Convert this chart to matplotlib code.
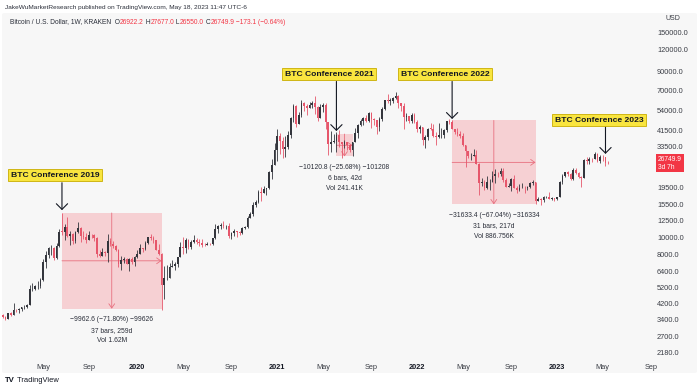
import numpy as np
import pandas as pd

import matplotlib

matplotlib.use("Agg")
import matplotlib.pyplot as plt
import matplotlib.dates as mdates
from matplotlib.patches import Rectangle, FancyBboxPatch
from matplotlib.ticker import NullLocator, NullFormatter

plt.rcParams["font.family"] = ["Liberation Sans", "DejaVu Sans"]

# weekly BTC/USD candles (Kraken, 1W), week starting Monday
first_week = "2019-01-21"
first_open = 3580.0

close_2019 = [3500, 3420, 3680, 3620, 3860, 3830, 3900, 3980, 3990, 4110,
              5060, 5080, 5280, 5280, 5750, 7250, 8000, 8720, 8730, 7660,
              8980, 10850, 10800, 11450, 10200, 10550, 9550, 10800, 11300, 10200,
              10150, 9750, 10400, 10350, 9950, 8050, 7850, 8300, 8220, 9550,
              9200, 9020, 8500, 7050, 7400, 7500, 7100, 7510, 7250, 7750]
high_2019 = [3640, 3550, 3690, 3720, 4200, 3900, 3930, 4000, 4080, 4150,
             5350, 5470, 5350, 5650, 5900, 7500, 8350, 8900, 9100, 8800,
             9330, 11250, 13880, 12000, 13200, 11000, 10650, 11000, 12300, 11450,
             10900, 10600, 10950, 10450, 10450, 10050, 8500, 8700, 8400, 10500,
             9950, 9550, 9100, 8600, 7850, 7750, 7600, 7650, 7700, 7800]
low_2019 = [3460, 3370, 3390, 3560, 3600, 3730, 3700, 3780, 3900, 3950,
            4080, 4950, 5000, 5070, 5150, 5650, 6700, 7600, 8000, 7450,
            7550, 8900, 10350, 9650, 10100, 9100, 9200, 9380, 10600, 9500,
            9800, 9350, 9700, 9900, 9600, 7700, 7750, 7800, 7800, 7300,
            8950, 8700, 8400, 6800, 6550, 7150, 7050, 6450, 7050, 6850]

close_2020 = [8100, 8700, 8600, 9380, 10150, 9900, 9680, 8550, 8050, 5350,
              5850, 5900, 6800, 6900, 7100, 7700, 8900, 8700, 9700, 8900,
              9450, 9750, 9400, 9300, 9100, 9080, 9250, 9170, 9900, 11200,
              11700, 11900, 11650, 11650, 10250, 10650, 10930, 10720, 10680, 11390,
              11500, 13050, 13750, 15450, 15950, 18400, 18150, 19150, 19250, 23850,
              26300, 32000]
high_2020 = [8450, 9200, 8750, 9600, 10150, 10500, 10250, 9700, 9200, 8150,
             6900, 7000, 7200, 7450, 7250, 7750, 9450, 10050, 9950, 9850,
             9700, 10400, 10000, 9800, 9800, 9300, 9450, 9350, 10000, 12000,
             11900, 12100, 12500, 11800, 12100, 10800, 11200, 11000, 10950, 11500,
             11750, 13350, 14100, 15950, 16500, 18800, 19500, 19900, 19400, 24300,
             28400, 34800]
low_2020 = [7650, 8050, 8250, 8480, 9150, 9700, 9300, 8450, 8000, 3850,
            4450, 5700, 5900, 6750, 6500, 6800, 7700, 8100, 8200, 8650,
            8650, 9350, 9150, 9000, 8850, 8950, 9050, 9050, 9100, 9850,
            10650, 11150, 11350, 11150, 9900, 9850, 10200, 10150, 10400, 10550,
            11200, 11400, 12950, 13250, 15100, 15800, 16200, 18150, 17600, 19000,
            21850, 26100]

close_2021 = [38200, 35800, 32300, 33100, 38900, 48600, 57400, 45200, 50900, 59100,
              57300, 55800, 58000, 59800, 56200, 49000, 56600, 58200, 46400, 34600,
              35600, 35800, 39000, 35500, 34600, 35300, 34250, 31800, 35400, 39900,
              44500, 47000, 49000, 47100, 51800, 48300, 47250, 43200, 48200, 54700,
              61500, 61300, 61300, 63300, 65500, 59700, 57300, 49400, 50100, 46700,
              50800, 46200]
high_2021 = [42000, 40100, 37850, 38500, 41000, 49700, 58300, 57500, 52600, 61800,
             60600, 58400, 60000, 61200, 64900, 57000, 58500, 59500, 59600, 45800,
             40900, 39400, 40700, 41300, 35700, 36600, 35100, 34600, 35500, 42500,
             44800, 48100, 49400, 50500, 52900, 52900, 48800, 47300, 49200, 56500,
             62000, 67000, 63700, 64200, 69000, 66300, 59500, 59100, 51900, 50200,
             51900, 52100]
low_2021 = [27700, 30300, 28800, 29200, 32300, 37400, 46500, 43000, 44950, 49300,
            53250, 50400, 55500, 55500, 51300, 47000, 48800, 53000, 42100, 30000,
            31100, 34800, 31000, 33350, 28800, 32700, 32100, 31000, 29300, 35300,
            37500, 43800, 44300, 46300, 46500, 42800, 44700, 39600, 40800, 46900,
            53900, 59600, 57800, 59500, 62300, 55600, 53300, 42000, 46800, 45600,
            45600, 45700]

close_2022 = [41900, 43100, 36300, 37900, 42400, 42200, 38400, 37700, 38800, 38800,
              41300, 46800, 46400, 42200, 40400, 39500, 38500, 34300, 31300, 29400,
              29500, 29900, 26600, 20600, 21000, 19300, 20800, 20800, 22600, 23300,
              23200, 24300, 21500, 19600, 19800, 21800, 19400, 18800, 19300, 19400,
              19200, 19500, 20600, 20900, 16300, 16700, 16450, 17100, 17100, 16750,
              16850, 16600]
high_2022 = [47600, 44500, 43500, 38900, 42700, 45800, 44800, 40300, 45400, 42600,
             42300, 46900, 48200, 47200, 42400, 42900, 40800, 40000, 34300, 31400,
             30600, 32300, 31700, 26900, 22000, 21500, 22500, 21600, 24300, 24700,
             23700, 25200, 25100, 22000, 20600, 21900, 22800, 19900, 20400, 20500,
             19700, 19700, 21000, 21500, 21000, 17200, 16800, 17400, 17400, 18400,
             17100, 16950]
low_2022 = [40600, 39700, 34000, 32900, 36300, 41700, 38000, 34300, 37200, 37200,
            37600, 40500, 45200, 42100, 39200, 38600, 37600, 33700, 25400, 28700,
            28000, 29300, 26600, 17600, 19700, 18800, 19000, 18900, 20800, 20700,
            22400, 22700, 20800, 19500, 19500, 18500, 19300, 18100, 18500, 19300,
            18100, 18900, 19250, 20050, 15550, 16300, 15500, 16000, 16800, 16600,
            16500, 16300]

close_2023 = [17100, 20900, 22700, 23700, 23300, 21800, 24600, 23600, 22400, 22100,
              27900, 27500, 28400, 28300, 30300, 27600, 29200, 28900, 26922.2, 26749.9]
high_2023 = [17200, 21300, 23300, 23800, 24200, 23500, 25200, 25200, 24000, 22600,
             28500, 28900, 29200, 28800, 31000, 30500, 30000, 29800, 29100, 27677.0]
low_2023 = [16500, 17100, 20400, 22300, 22500, 21500, 21400, 23100, 21900, 19600,
            21900, 26600, 26500, 27200, 28200, 27100, 26900, 27700, 25800, 26550.0]

# price axis labels
price_ticks = [150000, 120000, 90000, 70000, 54000, 41500, 33500, 19500, 15500,
               12500, 10000, 8000, 6400, 5200, 4200, 3400, 2700, 2180]
last_price = 26749.9
last_price_timer = "3d 7h"

# time axis labels (first weekly bar of each month)
time_tick_dates = ["2019-05-06", "2019-09-02", "2020-01-06", "2020-05-04", "2020-09-07",
                   "2021-01-04", "2021-05-03", "2021-09-06", "2022-01-03", "2022-05-02",
                   "2022-09-05", "2023-01-02", "2023-05-01", "2023-09-04"]
time_tick_labels = ["May", "Sep", "2020", "May", "Sep", "2021", "May", "Sep",
                    "2022", "May", "Sep", "2023", "May", "Sep"]

# conference callouts
conf_labels = ["BTC Conference 2019", "BTC Conference 2021", "BTC Conference 2022", "BTC Conference 2023"]
conf_label_dates = ["2019-06-06", "2021-05-19", "2022-03-16", "2023-04-21"]
conf_label_prices = [22900, 87200, 87200, 47400]
conf_arrow_dates = ["2019-06-24", "2021-06-07", "2022-04-04", "2023-05-08"]
conf_arrow_from = [20700, 79000, 79000, 43500]
conf_arrow_to = [14400, 41000, 48100, 30300]

# date/price range measurements
range_start = ["2019-06-24", "2021-06-07", "2022-04-04"]
range_days = [259, 42, 217]
range_bars = [37, 6, 31]
range_top = [13875.0, 39411.2, 47186.0]
range_drop = [9962.6, 10120.8, 31633.4]
range_pct = [71.80, 25.68, 67.04]
range_ticks = [99626, 101208, 316334]
range_vol = ["1.62M", "241.41K", "886.756K"]

UP = "#34363d"
DOWN = "#e6566b"
TEXT = "#2a2e39"
RED = "#f23645"

W, H = 699, 389
fig = plt.figure(figsize=(W / 100, H / 100), dpi=100)
fig.patch.set_facecolor("white")
fig.add_artist(FancyBboxPatch((2 / W, 1 - 373 / H), 695 / W, 360 / H,
                              boxstyle="round,pad=0,rounding_size=0.004",
                              transform=fig.transFigure, fc="#f7f7f7", ec="none", zorder=0))

ax = fig.add_axes([2 / W, 1 - 358 / H, 650 / W, 344 / H])
ax.set_facecolor("none")
for s in ax.spines.values():
    s.set_visible(False)
ax.set_yscale("log")

close = np.array(close_2019 + close_2020 + close_2021 + close_2022 + close_2023, dtype=float)
high = np.array(high_2019 + high_2020 + high_2021 + high_2022 + high_2023, dtype=float)
low = np.array(low_2019 + low_2020 + low_2021 + low_2022 + low_2023, dtype=float)
opn = np.r_[first_open, close[:-1]]
weeks = pd.date_range(first_week, periods=len(close), freq="7D")
x = mdates.date2num(weeks)

up = close >= opn
colors = np.where(up, UP, DOWN)
ax.vlines(x, low, high, colors=colors, lw=0.6, zorder=3)
body_lo = np.minimum(opn, close)
body_h = np.maximum(np.abs(close - opn), body_lo * 0.006)
ax.bar(x, body_h, bottom=body_lo, width=4.5, color=colors, linewidth=0, zorder=4)

ax.set_xlim(mdates.datestr2num("2019-01-19"), mdates.datestr2num("2023-09-06"))
ax.set_ylim(2037, 192850)

# range measurements
for start, days, bars, top, drop, pct, ticks, vol in zip(range_start, range_days, range_bars, range_top,
                                                        range_drop, range_pct, range_ticks, range_vol):
    x0 = mdates.datestr2num(start)
    x1 = x0 + days
    bottom = top - drop
    ax.add_patch(Rectangle((x0, bottom), days, top - bottom, fc=RED, alpha=0.2, ec="none", zorder=2))
    xm = (x0 + x1) / 2
    ym = np.sqrt(top * bottom)
    arrow = dict(arrowstyle="->,head_length=0.5,head_width=0.35", color="#e8707f", lw=0.6,
                 shrinkA=0, shrinkB=0, mutation_scale=6)
    ax.annotate("", xy=(x1, ym), xytext=(x0, ym), arrowprops=arrow, zorder=2.5)
    ax.annotate("", xy=(xm, bottom), xytext=(xm, top), arrowprops=arrow, zorder=2.5)
    lines = [f"\u2212{drop} (\u2212{pct:.2f}%) \u2212{ticks}", f"{bars} bars, {days}d", f"Vol {vol}"]
    for k, line in enumerate(lines):
        ax.annotate(line, xy=(xm, bottom), xytext=(0, -11 - 10.5 * k), textcoords="offset pixels",
                    ha="center", va="center", fontsize=4.9, color=TEXT, zorder=6)

# conference callouts
for label, ld, lp, ad, a0, a1 in zip(conf_labels, conf_label_dates, conf_label_prices,
                                     conf_arrow_dates, conf_arrow_from, conf_arrow_to):
    xa = mdates.datestr2num(ad)
    ax.annotate("", xy=(xa, a1), xytext=(xa, a0),
                arrowprops=dict(arrowstyle="->,head_length=0.45,head_width=0.45", color="#131722",
                                lw=0.8, shrinkA=0, shrinkB=0, mutation_scale=9), zorder=7)
    ax.text(mdates.datestr2num(ld), lp, label, ha="center", va="center", fontsize=6.1,
            fontweight="bold", color="#131722", zorder=8,
            bbox=dict(boxstyle="square,pad=0.3", fc="#f9e53f", ec="#c9ad00", lw=0.6))

# axes ticks
ax.yaxis.tick_right()
ax.yaxis.set_minor_locator(NullLocator())
ax.yaxis.set_minor_formatter(NullFormatter())
ax.set_yticks(price_ticks, [f"{v:.1f}" for v in price_ticks])
ax.tick_params(axis="y", length=0, pad=3.6, labelsize=5.3, labelcolor="#3a3d45")
ax.set_xticks([mdates.datestr2num(d) for d in time_tick_dates], time_tick_labels)
ax.tick_params(axis="x", length=0, pad=4.5, labelsize=5.3, labelcolor="#3a3d45")
for t in ax.get_xticklabels():
    if t.get_text().isdigit():
        t.set_fontweight("bold")
        t.set_color("#131722")

ax.annotate(f"{last_price:.1f}\n{last_price_timer}", xy=(1, last_price), xycoords=("axes fraction", "data"),
            xytext=(6, 0), textcoords="offset pixels", ha="left", va="center", fontsize=4.8,
            color="white", linespacing=1.1, annotation_clip=False,
            bbox=dict(boxstyle="square,pad=0.25", fc=RED, ec="none"))

fig.text(665 / W, 1 - 18 / H, "USD", fontsize=5, color="#3a3d45", va="center")

# header
fig.text(5 / W, 1 - 7 / H, "JakeWuMarketResearch published on TradingView.com, May 18, 2023 11:47 UTC-6",
         fontsize=4.65, color=TEXT, va="center")
pieces = [("Bitcoin / U.S. Dollar, 1W, KRAKEN", TEXT), ("  O", TEXT), ("26922.2", RED), (" H", TEXT),
          ("27677.0", RED), (" L", TEXT), ("26550.0", RED), (" C", TEXT), ("26749.9", RED),
          (" \u2212173.1 (\u22120.64%)", RED)]
prev = fig.text(10 / W, 1 - 22 / H, pieces[0][0], fontsize=4.75, color=pieces[0][1], va="center")
for txt, col in pieces[1:]:
    prev = ax.annotate(txt, xy=(1, 0), xycoords=prev, ha="left", va="bottom", fontsize=4.75, color=col)

# footer logo
logo = fig.text(5 / W, 1 - 381 / H, "TV", fontsize=5.6, fontweight="bold", color="#131722", va="center")
ax.annotate(" TradingView", xy=(1, 0), xycoords=logo, ha="left", va="bottom", fontsize=5.4, color="#131722")

fig.savefig("out.png", dpi=100)
